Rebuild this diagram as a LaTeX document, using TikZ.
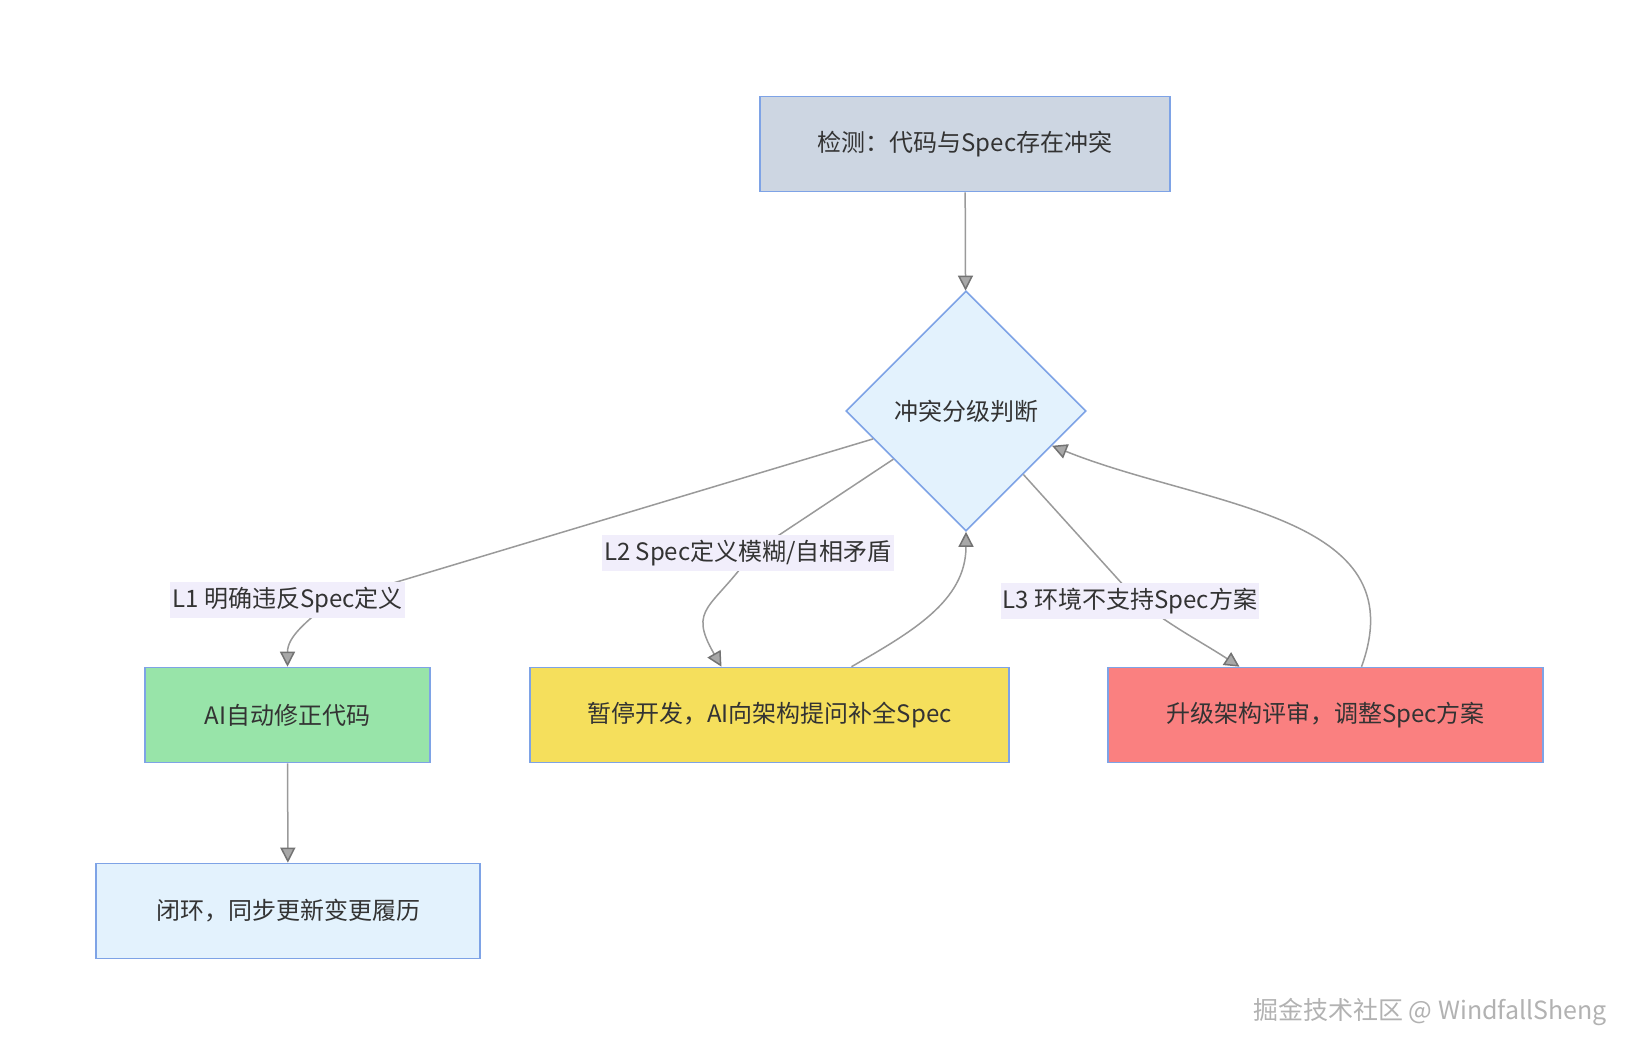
\documentclass[tikz,border=0pt]{standalone}
\usepackage{fontspec}
\setmainfont{Noto Sans CJK SC}
\usepackage{xcolor}
\usetikzlibrary{positioning,arrows.meta,shapes.geometric}

\definecolor{boxline}{HTML}{7EA3E6}
\definecolor{textdark}{HTML}{333333}
\definecolor{linegray}{HTML}{9A9A9A}
\definecolor{tipgray}{HTML}{A8A8A8}
\definecolor{detectfill}{HTML}{CDD6E2}
\definecolor{palefill}{HTML}{E3F2FD}
\definecolor{fixfill}{HTML}{98E4A9}
\definecolor{pausefill}{HTML}{F5DF5C}
\definecolor{reviewfill}{HTML}{FA8080}
\definecolor{labelfill}{HTML}{F1EEFB}

\begin{document}
\begin{tikzpicture}[
		x=0.5pt,y=-0.5pt,
		every node/.style={font=\fontsize{12}{14}\selectfont,text=textdark},
		box/.style={draw=boxline,line width=0.8pt,minimum height=47.5pt,inner sep=0pt},
		decision/.style={diamond,aspect=1,draw=boxline,line width=0.8pt,fill=palefill,
			minimum width=120pt,minimum height=120pt,inner sep=0pt},
		flow/.style={line width=0.75pt,draw=linegray,
			-{Triangle[length=7.5pt,width=7.5pt,color=black!55,fill=tipgray]}},
		edge text/.style={fill=labelfill,inner xsep=1pt,inner ysep=2.5pt}
	]
		\fill[white] (0,0) rectangle (1639,1056);
		\useasboundingbox (0,0) rectangle (1639,1056);

		% Main nodes of the chart.
		\node[box,fill=detectfill,minimum width=205pt] (detect) at (965,144)
			{检测：代码与Spec存在冲突};
		\node[decision] (grade) at (966,411) {冲突分级判断};
		\node[box,fill=fixfill,minimum width=142.5pt] (autofix) at (287.5,715)
			{AI自动修正代码};
		\node[box,fill=pausefill,minimum width=239.5pt] (pause) at (769.5,715)
			{暂停开发，AI向架构提问补全Spec};
		\node[box,fill=reviewfill,minimum width=217.5pt] (review) at (1325.5,715)
			{升级架构评审，调整Spec方案};
		\node[box,fill=palefill,minimum width=192pt] (close) at (288,911)
			{闭环，同步更新变更履历};

		% Bend points where the level labels sit.
		\coordinate (bend1) at (330,602);
		\coordinate (bend2) at (752,553);
		\coordinate (bend3) at (1135,598);

		% Connectors.
		\draw[flow] (detect) -- (grade);
		\draw[flow] (grade) -- (bend1) to[out=-140,in=90] (autofix);
		\draw[flow] (grade) -- (bend2)
			to[out=-125,in=120,looseness=1.5] ([xshift=-24pt]pause.north);
		\draw[flow] ([xshift=41pt]pause.north) to[out=30,in=-90] (grade.south);
		\draw[flow] (grade) -- (bend3) to[out=-38,in=147] ([xshift=-43pt]review.north);
		\draw[flow] ([xshift=18pt]review.north) to[out=70,in=-22,looseness=1.1] (grade);
		\draw[flow] (autofix) -- (close);

		% Level labels drawn over the connectors.
		\node[edge text] (lvl1) at (287.5,600) {L1 明确违反Spec定义};
		\node[edge text] (lvl2) at (748,553) {L2 Spec定义模糊/自相矛盾};
		\node[edge text] (lvl3) at (1130,601) {L3 环境不支持Spec方案};

		% Watermark.
		\node[anchor=east,text=black!30,font=\fontsize{12.5}{15}\selectfont] (mark)
			at (1614,1012) {掘金技术社区 @ WindfallSheng};
	\end{tikzpicture}
\end{document}
